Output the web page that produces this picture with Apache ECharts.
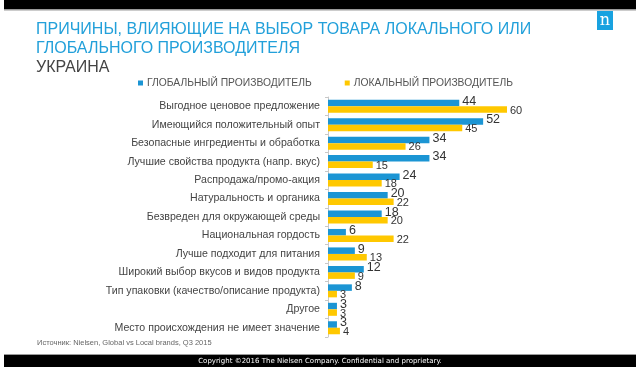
<!DOCTYPE html>
<html><head><meta charset="utf-8">
<script src="https://cdn.jsdelivr.net/npm/echarts@6/dist/echarts.min.js"></script>
<style>html,body{margin:0;padding:0;background:#fff}#c{width:636px;height:367px}</style>
</head><body><div id="c"></div>
<script>
const categories = [
  "Выгодное ценовое предложение",
  "Имеющийся положительный опыт",
  "Безопасные ингредиенты и обработка",
  "Лучшие свойства продукта (напр. вкус)",
  "Распродажа/промо-акция",
  "Натуральность и органика",
  "Безвреден для окружающей среды",
  "Национальная гордость",
  "Лучше подходит для питания",
  "Широкий выбор вкусов и видов продукта",
  "Тип упаковки (качество/описание продукта)",
  "Другое",
  "Место происхождения не имеет значение"
];
const globalValues = [44, 52, 34, 34, 24, 20, 18, 6, 9, 12, 8, 3, 3];
const localValues  = [60, 45, 26, 15, 18, 22, 20, 22, 13, 9, 3, 3, 4];
const seriesNames = ["ГЛОБАЛЬНЫЙ ПРОИЗВОДИТЕЛЬ", "ЛОКАЛЬНЫЙ ПРОИЗВОДИТЕЛЬ"];

const FONT = "'Liberation Sans', Arial, sans-serif";
const chart = echarts.init(document.getElementById('c'), null, {renderer: 'canvas'});
chart.setOption({
  animation: false,
  backgroundColor: '#ffffff',
  textStyle: {fontFamily: FONT},
  legend: {
    top: 73, left: 133, itemGap: 33, itemWidth: 5, itemHeight: 5, icon: 'rect',
    textStyle: {fontSize: 10.3, color: '#555', fontFamily: FONT, padding: [0,0,0,-1]},
    data: seriesNames
  },
  grid: {left: 328, top: 97, width: 179, height: 240, containLabel: false},
  xAxis: {type: 'value', min: 0, max: 60, show: false},
  yAxis: {
    type: 'category', data: categories, inverse: true,
    axisLine: {lineStyle: {color: '#c8c8c8'}},
    axisTick: {show: true, length: 3, lineStyle: {color: '#c8c8c8'}},
    axisLabel: {fontSize: 10.6, color: '#444', margin: 8, fontFamily: FONT}
  },
  series: [
    {name: seriesNames[0], type: 'bar', data: globalValues, barWidth: 6.5, barGap: '0%', barCategoryGap: '30%',
     itemStyle: {color: '#1b95d4'},
     label: {show: true, position: 'right', distance: 3, fontSize: 12.5, color: '#333', offset: [0, -1.5], fontFamily: FONT}},
    {name: seriesNames[1], type: 'bar', data: localValues, barWidth: 6.5, barGap: '0%',
     itemStyle: {color: '#ffc800'},
     label: {show: true, position: 'right', distance: 3, fontSize: 11, color: '#333', offset: [0, 1], fontFamily: FONT}}
  ],
  graphic: [
    {type: 'rect', shape: {x: 4, y: 0, width: 632, height: 9}, style: {fill: '#000'}},
    {type: 'rect', shape: {x: 4, y: 9, width: 632, height: 1.5}, style: {fill: '#9a9a9a'}},
    {type: 'text', x: 36, y: 21.5, style: {text: 'ПРИЧИНЫ, ВЛИЯЮЩИЕ НА ВЫБОР ТОВАРА ЛОКАЛЬНОГО ИЛИ', fill: '#22a0da', font: '16px ' + FONT, verticalAlign: 'top'}},
    {type: 'text', x: 36, y: 40.5, style: {text: 'ГЛОБАЛЬНОГО ПРОИЗВОДИТЕЛЯ', fill: '#22a0da', font: '16px ' + FONT, verticalAlign: 'top'}},
    {type: 'text', x: 36, y: 59.5, style: {text: 'УКРАИНА', fill: '#444', font: '16px ' + FONT, verticalAlign: 'top'}},
    {type: 'rect', shape: {x: 597, y: 11, width: 16, height: 19}, style: {fill: '#18a2e0'}},
    {type: 'text', x: 605, y: 21, style: {text: 'n', fill: '#fff', font: '16px "DejaVu Serif", serif', align: 'center', verticalAlign: 'middle'}},
    {type: 'text', x: 37, y: 343, style: {text: 'Источник: Nielsen, Global vs Local brands, Q3 2015', fill: '#666', font: '7.5px ' + FONT, verticalAlign: 'middle'}},
    {type: 'rect', shape: {x: 4, y: 355, width: 632, height: 12}, style: {fill: '#000'}},
    {type: 'rect', shape: {x: 4, y: 354, width: 632, height: 1}, style: {fill: '#9a9a9a'}},
    {type: 'text', x: 320, y: 361, style: {text: 'Copyright ©2016 The Nielsen Company. Confidential and proprietary.', fill: '#fff', font: '7px ' + "'DejaVu Sans', sans-serif", align: 'center', verticalAlign: 'middle'}}
  ]
});
</script></body></html>
